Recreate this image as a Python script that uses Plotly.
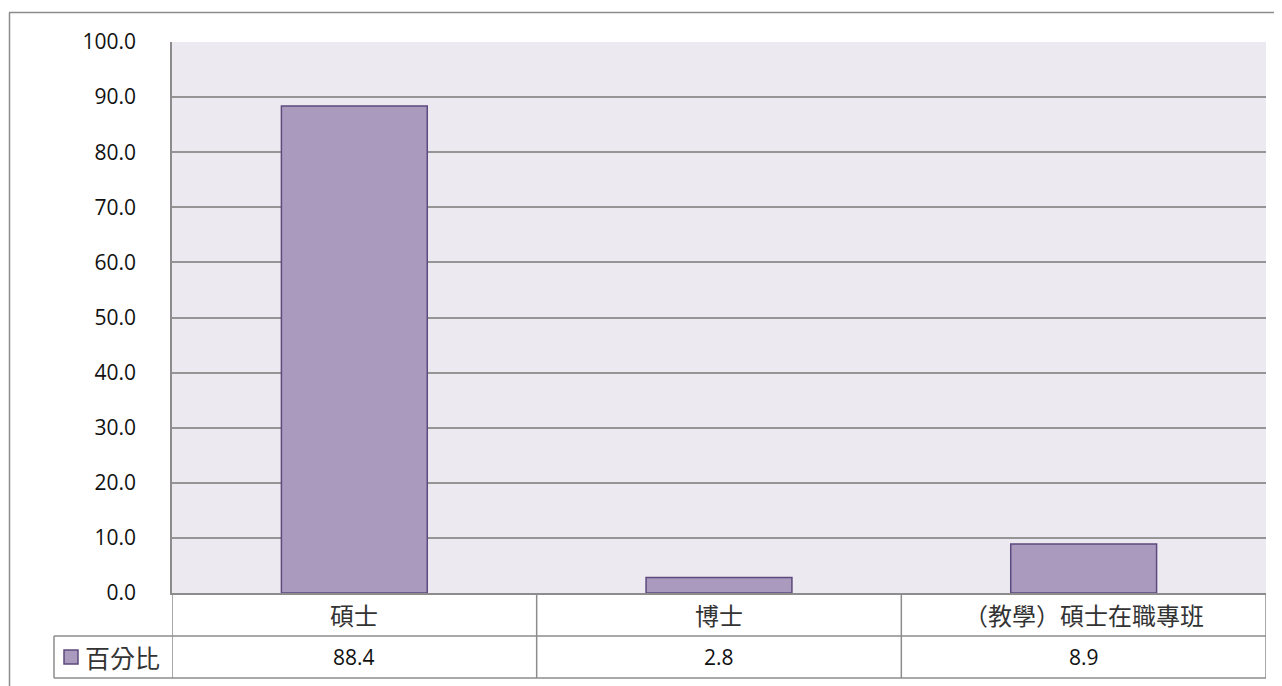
import plotly.graph_objects as go

categories = ["碩士", "博士", "（教學）碩士在職專班"]
values = [88.4, 2.8, 8.9]
series_name = "百分比"
tick_vals = [0, 10, 20, 30, 40, 50, 60, 70, 80, 90, 100]
tick_text = [f"{v:.1f}" for v in tick_vals]

OFF = 8  # default page body margin
W, H = 1282 - OFF, 686 - OFF
L, R, T, B = 172 - OFF, 16, 42 - OFF, 93
plot_h = H - T - B
plot_w = W - L - R


def py(y_page):
    return (H - B - (y_page - OFF)) / plot_h


def px(x_page):
    return ((x_page - OFF) - L) / plot_w


bar_fill = "#A99ABE"
bar_line = "#5E4A7E"
grid = "#959595"
border = "#8C8C8C"
cjk_font = dict(family="Noto Sans CJK TC", size=24, color="#333333")

fig = go.Figure()
fig.add_trace(go.Bar(
    x=list(range(len(categories))), y=values, name=series_name,
    marker=dict(color=bar_fill, line=dict(color=bar_line, width=1.5)),
    width=0.4, showlegend=False, hoverinfo="skip",
))

shapes = []
# outer chart border (top & left)
shapes.append(dict(type="line", xref="paper", yref="paper", x0=px(9), x1=px(1290), y0=py(12.5), y1=py(12.5),
                   line=dict(color=border, width=1.5)))
shapes.append(dict(type="line", xref="paper", yref="paper", x0=px(9.5), x1=px(9.5), y0=py(12.5), y1=py(695),
                   line=dict(color=border, width=1.5)))
# data table lines
tl = dict(color=border, width=1.5)
row1_top, row2_top, row2_bot = 593, 636, 678
shapes.append(dict(type="line", xref="paper", yref="paper", x0=px(54), x1=1, y0=py(row2_top), y1=py(row2_top), line=tl))
shapes.append(dict(type="line", xref="paper", yref="paper", x0=px(54), x1=1, y0=py(row2_bot), y1=py(row2_bot), line=tl))
shapes.append(dict(type="line", xref="paper", yref="paper", x0=px(54), x1=px(54), y0=py(row2_top), y1=py(row2_bot), line=tl))
for i in range(len(categories) + 1):
    shapes.append(dict(type="line", xref="x", yref="paper", x0=i - 0.5, x1=i - 0.5, y0=0, y1=py(row2_bot), line=tl))
# legend key
shapes.append(dict(type="rect", xref="paper", yref="paper", x0=px(64), x1=px(78), y0=py(650), y1=py(664),
                   fillcolor=bar_fill, line=dict(color=bar_line, width=1.5)))

annotations = []
for i, (c, v) in enumerate(zip(categories, values)):
    annotations.append(dict(x=i, y=py((row1_top + row2_top) / 2), xref="x", yref="paper", text=c,
                            showarrow=False, font=cjk_font,
                            xanchor="center", yanchor="middle"))
    annotations.append(dict(x=i, y=py((row2_top + row2_bot) / 2), xref="x", yref="paper", text=f"{v:.1f}",
                            showarrow=False, font=dict(family="Open Sans", size=21, color="#111111"),
                            xanchor="center", yanchor="middle"))
annotations.append(dict(x=px(83), y=py(657), xref="paper", yref="paper", text=series_name, showarrow=False,
                        font=dict(family="Noto Sans CJK TC", size=25, color="#333333"),
                        xanchor="left", yanchor="middle"))

fig.update_layout(
    width=W, height=H,
    margin=dict(l=L, r=R, t=T, b=B, pad=0),
    paper_bgcolor="white", plot_bgcolor="#ECEAF0",
    bargap=0.6,
    shapes=shapes, annotations=annotations,
    xaxis=dict(range=[-0.5, 2.5], showticklabels=False, showgrid=False, zeroline=False,
               showline=True, linecolor=border, linewidth=1.5, ticks=""),
    yaxis=dict(range=[0, 100], tickvals=tick_vals, ticktext=tick_text,
               tickfont=dict(family="Open Sans", size=21, color="#111111"),
               showgrid=True, gridcolor=grid, gridwidth=1.5, zeroline=False,
               showline=True, linecolor=border, linewidth=1.5, mirror=False,
               ticks="outside", ticklen=30, tickcolor="rgba(0,0,0,0)"),
    showlegend=False,
)

fig.write_html("out.html")
